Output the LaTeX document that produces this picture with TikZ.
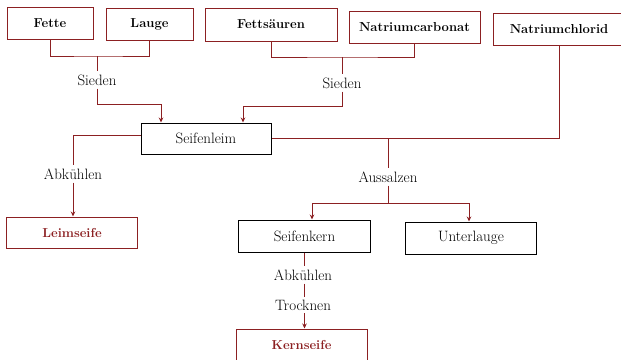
\documentclass[tikz,border=0pt]{standalone}
\usetikzlibrary{arrows.meta,calc}
\definecolor{mred}{RGB}{140,32,34}
\begin{document}
\begin{tikzpicture}[x=1pt,y=-1pt,
  redbox/.style={draw=mred,line width=1pt,inner sep=0pt,font=\fontsize{13}{15}\selectfont\bfseries},
  blackbox/.style={draw=black,line width=1pt,inner sep=0pt,font=\fontsize{15}{17}\selectfont},
  resbox/.style={draw=mred,line width=1pt,inner sep=0pt,text=mred,font=\fontsize{13}{15}\selectfont\bfseries},
  lab/.style={inner sep=3pt,font=\fontsize{15}{17}\selectfont},
  con/.style={draw=mred,line width=1pt},
  arr/.style={con,-{Stealth[length=5pt,width=4.5pt]}}]
\useasboundingbox (0,0) rectangle (621,359);
% input boxes
\node[redbox,minimum width=86pt,minimum height=32pt] (fette) at (50,23) {Fette};
\node[redbox,minimum width=87pt,minimum height=32pt] (lauge) at (149.5,24) {Lauge};
\node[redbox,minimum width=132pt,minimum height=33pt] (fs) at (271,24.5) {Fettsäuren};
\node[redbox,minimum width=131pt,minimum height=32pt] (nc) at (414.5,27) {Natriumcarbonat};
\node[redbox,minimum width=132pt,minimum height=32pt] (ncl) at (559,29) {Natriumchlorid};
% process boxes
\node[blackbox,minimum width=130pt,minimum height=31pt] (leim) at (206,138.5) {Seifenleim};
\node[resbox,minimum width=131pt,minimum height=31pt] (lseife) at (72,232.5) {Leimseife};
\node[blackbox,minimum width=132pt,minimum height=32pt] (skern) at (304.5,236) {Seifenkern};
\node[blackbox,minimum width=131pt,minimum height=32pt] (ulauge) at (471,238) {Unterlauge};
\node[resbox,minimum width=131pt,minimum height=32pt] (kseife) at (301.5,345) {Kernseife};
% labels
\node[lab] (sied1) at (97,80) {Sieden};
\node[lab] (sied2) at (342,83) {Sieden};
\node[lab] (abk1) at (73,174) {Abkühlen};
\node[lab] (auss) at (388,177) {Aussalzen};
\node[lab] (abk2) at (303,275) {Abkühlen};
\node[lab] (troc) at (303,305) {Trocknen};
% coordinates
\coordinate (j1) at (97,56);
\coordinate (a1) at (161,104);
\coordinate (j2) at (342,57);
\coordinate (a2) at (243,106);
\coordinate (j3) at (388,138.5);
\coordinate (j4) at (388,203);
\coordinate (b1) at (312,203);
\coordinate (b2) at (469,203);
% connectors
\draw[con] (fette.south) |- (j1) -| (lauge.south);
\draw[con] (j1) -- (sied1.north);
\draw[con] (sied1.south) |- (a1);
\draw[arr] (a1) -- (a1 |- leim.north);
\draw[con] (fs.south) |- (j2) -| (nc.south);
\draw[con] (j2) -- (sied2.north);
\draw[con] (sied2.south) |- (a2);
\draw[arr] (a2) -- (a2 |- leim.north);
\draw[con] (ncl.south) |- (leim.east);
\draw[con] (j3) -- (auss.north);
\draw[con] (auss.south) -- (j4);
\draw[con] (b1) -- (b2);
\draw[arr] (b1) -- (b1 |- skern.north);
\draw[arr] (b2) -- (b2 |- ulauge.north);
\draw[con] ([yshift=3.5pt]leim.west) -| (abk1.north);
\draw[arr] (abk1.south) -- (abk1.south |- lseife.north);
\draw[con] (skern.south) -- (skern.south |- abk2.north);
\draw[con] (skern.south |- abk2.south) -- (skern.south |- troc.north);
\draw[arr] (skern.south |- troc.south) -- (kseife.north -| skern.south);
\end{tikzpicture}
\end{document}
